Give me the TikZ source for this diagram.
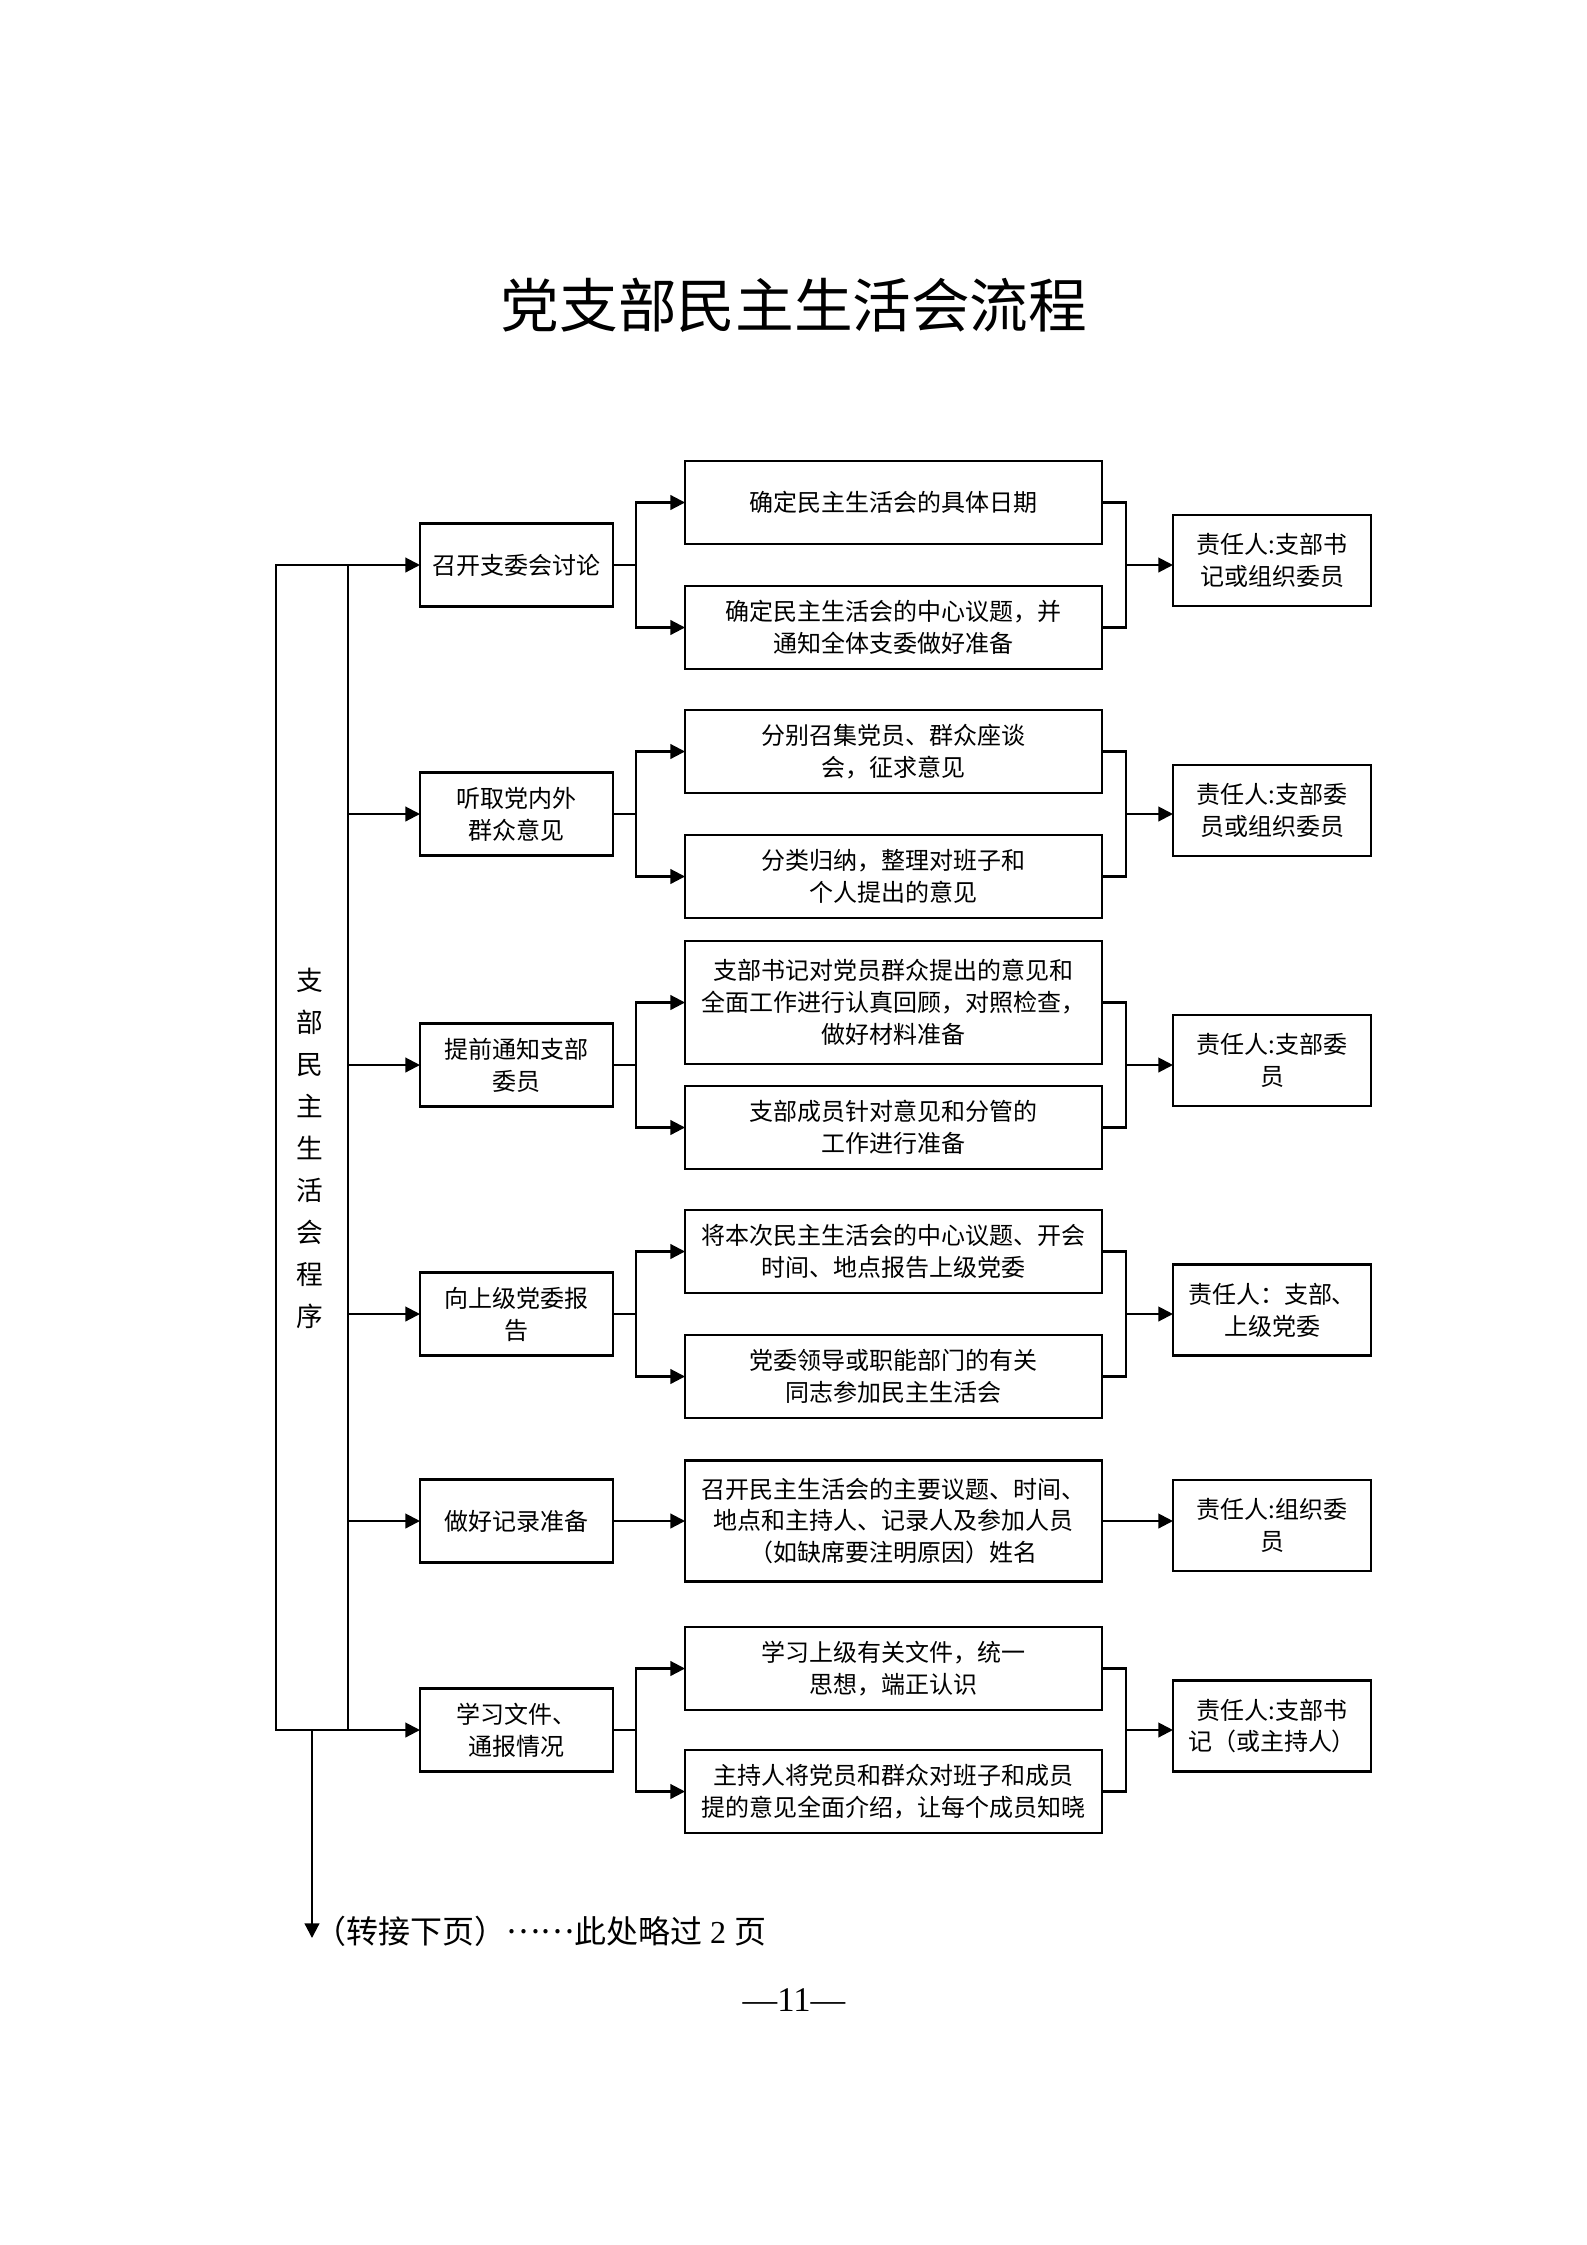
\documentclass[tikz,border=0pt]{standalone}
\usepackage{fontspec}
\setmainfont{Liberation Serif}
\newfontfamily\cjk{Noto Sans CJK SC}
\usetikzlibrary{arrows.meta}
\begin{document}
\begin{tikzpicture}[x=0.3751pt,y=-0.3751pt,
  box/.style={draw,line width=0.9pt,inner sep=0pt,outer sep=0pt,align=center,
    font=\cjk\fontsize{9pt}{12pt}\selectfont},
  lbox/.style={box,minimum width=72.4pt,minimum height=31.1pt},
  mbox/.style={box,minimum width=156.4pt,minimum height=31.1pt},
  rbox/.style={box,minimum width=74.3pt,minimum height=34.1pt},
  ln/.style={line width=0.8pt},
  arr/.style={ln,-{Triangle[length=5.5pt,width=5.5pt]}}]
\useasboundingbox (0,0) rectangle (1587,2245);

% title
\node[font=\cjk\fontsize{22pt}{26pt}\selectfont] (title) at (794,305) {党支部民主生活会流程};

% spine
\node[draw,line width=0.9pt,inner sep=0pt,outer sep=0pt,minimum width=27pt,minimum height=437pt] (spine) at (312,1147.5) {};
\node[font=\cjk\fontsize{10pt}{15.75pt}\selectfont,align=center,inner sep=0pt] (spinetext) at (310,1148.5)
  {支\\部\\民\\主\\生\\活\\会\\程\\序};

% left boxes
\node[lbox] (L1) at (516.5,565) {召开支委会讨论};
\node[lbox] (L2) at (516.5,814) {听取党内外\\群众意见};
\node[lbox] (L3) at (516.5,1065) {提前通知支部\\委员};
\node[lbox] (L4) at (516.5,1314) {向上级党委报\\告};
\node[lbox] (L5) at (516.5,1521) {做好记录准备};
\node[lbox] (L6) at (516.5,1730) {学习文件、\\通报情况};

% middle boxes
\node[mbox] (M1a) at (893.5,502.5) {确定民主生活会的具体日期};
\node[mbox] (M1b) at (893.5,627.5) {确定民主生活会的中心议题，并\\通知全体支委做好准备};
\node[mbox] (M2a) at (893.5,751.5) {分别召集党员、群众座谈\\会，征求意见};
\node[mbox] (M2b) at (893.5,876.5) {分类归纳，整理对班子和\\个人提出的意见};
\node[mbox,minimum height=46.1pt] (M3a) at (893.5,1002.5) {支部书记对党员群众提出的意见和\\全面工作进行认真回顾，对照检查，\\做好材料准备};
\node[mbox] (M3b) at (893.5,1127.5) {支部成员针对意见和分管的\\工作进行准备};
\node[mbox] (M4a) at (893.5,1251.5) {将本次民主生活会的中心议题、开会\\时间、地点报告上级党委};
\node[mbox] (M4b) at (893.5,1376.5) {党委领导或职能部门的有关\\同志参加民主生活会};
\node[mbox,minimum height=45.4pt] (M5) at (893.5,1521) {召开民主生活会的主要议题、时间、\\地点和主持人、记录人及参加人员\\（如缺席要注明原因）姓名};
\node[mbox] (M6a) at (893.5,1668.5) {学习上级有关文件，统一\\思想，端正认识};
\node[mbox] (M6b) at (893.5,1791.5) {主持人将党员和群众对班子和成员\\提的意见全面介绍，让每个成员知晓};

% responsibility boxes
\node[rbox] (R1) at (1272,560.5) {责任人:支部书\\记或组织委员};
\node[rbox] (R2) at (1272,810.5) {责任人:支部委\\员或组织委员};
\node[rbox] (R3) at (1272,1060.5) {责任人:支部委\\员};
\node[rbox] (R4) at (1272,1310) {责任人：支部、\\上级党委};
\node[rbox] (R5) at (1272,1525.5) {责任人:组织委\\员};
\node[rbox] (R6) at (1272,1726) {责任人:支部书\\记（或主持人）};

% spine arrows
\foreach \i in {1,...,6} {
  \draw[arr] (spine.east |- L\i.west) -- (L\i.west);
}

% branching rows
\foreach \i in {1,2,3,4,6} {
  \coordinate (b\i) at (636,0 |- L\i.east);
  \coordinate (c\i) at (1126,0 |- L\i.east);
  \draw[ln] (L\i.east) -- (b\i);
  \draw[arr] (b\i) |- (M\i a.west);
  \draw[arr] (b\i) |- (M\i b.west);
  \draw[ln] (M\i a.east) -| (c\i);
  \draw[ln] (M\i b.east) -| (c\i);
  \draw[arr] (c\i) -- (R\i.west |- c\i);
}

% row 5
\draw[arr] (L5.east) -- (M5.west |- L5.east);
\draw[arr] (M5.east |- L5.east) -- (R5.west |- L5.east);

% continuation
\coordinate (down) at (312,1938);
\draw[arr] (spine.south) -- (down);
\node[anchor=west,inner sep=0pt,font=\fontsize{12pt}{14pt}\selectfont] (cont) at (314,1931)
  {{\cjk （转接下页）\raisebox{0.3em}{……}此处略过} 2 {\cjk 页}};

% page number
\node[font=\fontsize{13pt}{15pt}\selectfont] (pageno) at (794,2000) {—11—};
\end{tikzpicture}
\end{document}
